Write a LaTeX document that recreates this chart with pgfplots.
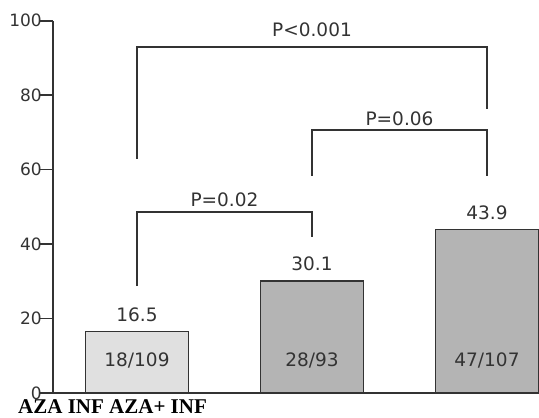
\documentclass[border=0pt]{standalone}
\usepackage{pgfplots}
\pgfplotsset{compat=1.18}
\usepackage{fontspec}
\setmainfont{DejaVu Sans}
\newfontfamily\serifbold{Liberation Serif}
\definecolor{ink}{HTML}{333333}
\definecolor{lightbar}{HTML}{E0E0E0}
\definecolor{darkbar}{HTML}{B4B4B4}
\begin{document}
\begin{tikzpicture}
\begin{axis}[
  at={(0,0)}, anchor=south west,
  scale only axis,
  width=488.25pt, height=372.3pt,
  xmin=-0.48, xmax=2.31,
  ymin=0, ymax=100,
  axis lines*=left,
  axis line style={ink, line width=1.7pt},
  xtick=\empty,
  ytick={0,20,40,60,80,100},
  tick align=outside,
  major tick length=13pt,
  ytick style={ink, line width=1.7pt},
  tick label style={/pgf/number format/assume math mode=true},
  yticklabel style={font=\fontsize{17}{17}\selectfont, text=ink, inner sep=0pt, xshift=2pt},
  clip=false,
]
\addplot[ybar, bar width=103pt, fill=lightbar, draw=ink, line width=1.7pt,
  nodes near coords, nodes near coords style={font=\fontsize{18.5}{18.5}\selectfont, text=ink, anchor=center, yshift=17pt, /pgf/number format/fixed, /pgf/number format/precision=1, /pgf/number format/assume math mode=true}]
  coordinates {(0,16.5)};
\addplot[ybar, bar width=103pt, fill=darkbar, draw=ink, line width=1.7pt,
  nodes near coords, nodes near coords style={font=\fontsize{18.5}{18.5}\selectfont, text=ink, anchor=center, yshift=17pt, /pgf/number format/fixed, /pgf/number format/precision=1, /pgf/number format/assume math mode=true}]
  coordinates {(1,30.1) (2,43.9)};
% significance brackets
\addplot[ink, line width=1.7pt, no marks, sharp plot] coordinates {(0,28.7) (0,48.7) (1,48.7) (1,42.0)};
\addplot[ink, line width=1.7pt, no marks, sharp plot] coordinates {(1,58.3) (1,70.6) (2,70.6) (2,58.3)};
\addplot[ink, line width=1.7pt, no marks, sharp plot] coordinates {(0,62.9) (0,93.0) (2,93.0) (2,76.3)};
\begin{scope}[every node/.style={font=\fontsize{18.5}{18.5}\selectfont, text=ink, anchor=center, inner sep=0pt}]
\node at (axis cs:0.5,51.8) {P=0.02};
\node at (axis cs:1.5,73.7) {P=0.06};
\node at (axis cs:1.0,97.5) {P<0.001};
\node at (axis cs:0,8.8) {18/109};
\node at (axis cs:1,8.6) {28/93};
\node at (axis cs:2,8.6) {47/107};
\end{scope}
\end{axis}
\node[anchor=base west, inner sep=0pt, font=\serifbold\bfseries\fontsize{21}{21}\selectfont] at (-35pt,-21pt) {AZA INF AZA+ INF};
\pgfresetboundingbox
\path[use as bounding box] (-53pt,-25pt) rectangle (486pt,393pt);
\end{tikzpicture}
\end{document}
